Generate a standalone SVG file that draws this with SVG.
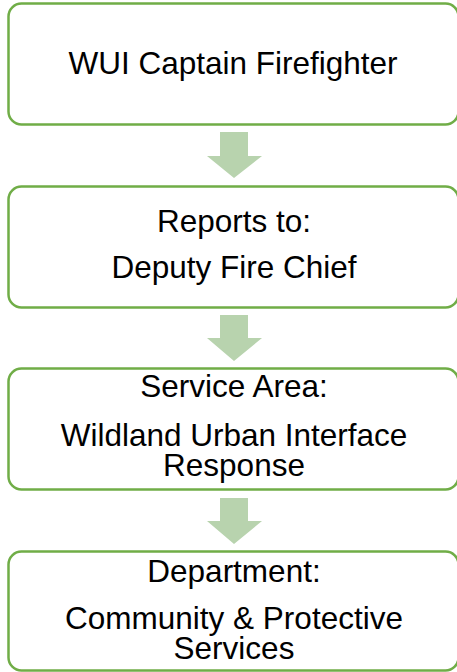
<svg xmlns="http://www.w3.org/2000/svg" width="457" height="672" viewBox="0 0 457 672">
  <style>
    .box { fill: #ffffff; stroke: #70AD47; stroke-width: 2.5; }
    .arrow { fill: #B8D3AE; }
    .label { font-family: "Liberation Sans", Arial, sans-serif; font-size: 31.5px; fill: #000000; text-anchor: middle; }
  </style>
  <rect width="457" height="672" fill="#ffffff"/>

  <!-- connectors: block arrows between the boxes -->
  <g id="connectors">
    <path class="arrow" d="M220,132 H248 V156 H262 L234,178 L207,156 H220 Z"/>
    <path class="arrow" d="M220,315 H248 V338 H262 L234,361 L207,338 H220 Z"/>
    <path class="arrow" d="M220,498 H248 V521 H262 L234,544 L207,521 H220 Z"/>
  </g>

  <g id="node-title">
    <rect class="box" x="8.5" y="3.5" width="450" height="121" rx="13"/>
    <text class="label" x="233" y="74">WUI Captain Firefighter</text>
  </g>

  <g id="node-reports">
    <rect class="box" x="8.5" y="186.5" width="450" height="121" rx="13"/>
    <text class="label" x="234" y="232">Reports to:</text>
    <text class="label" x="234" y="278">Deputy Fire Chief</text>
  </g>

  <g id="node-service">
    <rect class="box" x="8.5" y="368.5" width="450" height="121" rx="13"/>
    <text class="label" x="234" y="397">Service Area:</text>
    <!-- one wrapped paragraph, two lines -->
    <text class="label" x="234" y="446">Wildland Urban Interface<tspan x="234" dy="30">Response</tspan></text>
  </g>

  <g id="node-department">
    <rect class="box" x="8.5" y="551.5" width="450" height="119" rx="13"/>
    <text class="label" x="234" y="582">Department:</text>
    <text class="label" x="234" y="629">Community &amp; Protective<tspan x="234" dy="30">Services</tspan></text>
  </g>
</svg>
